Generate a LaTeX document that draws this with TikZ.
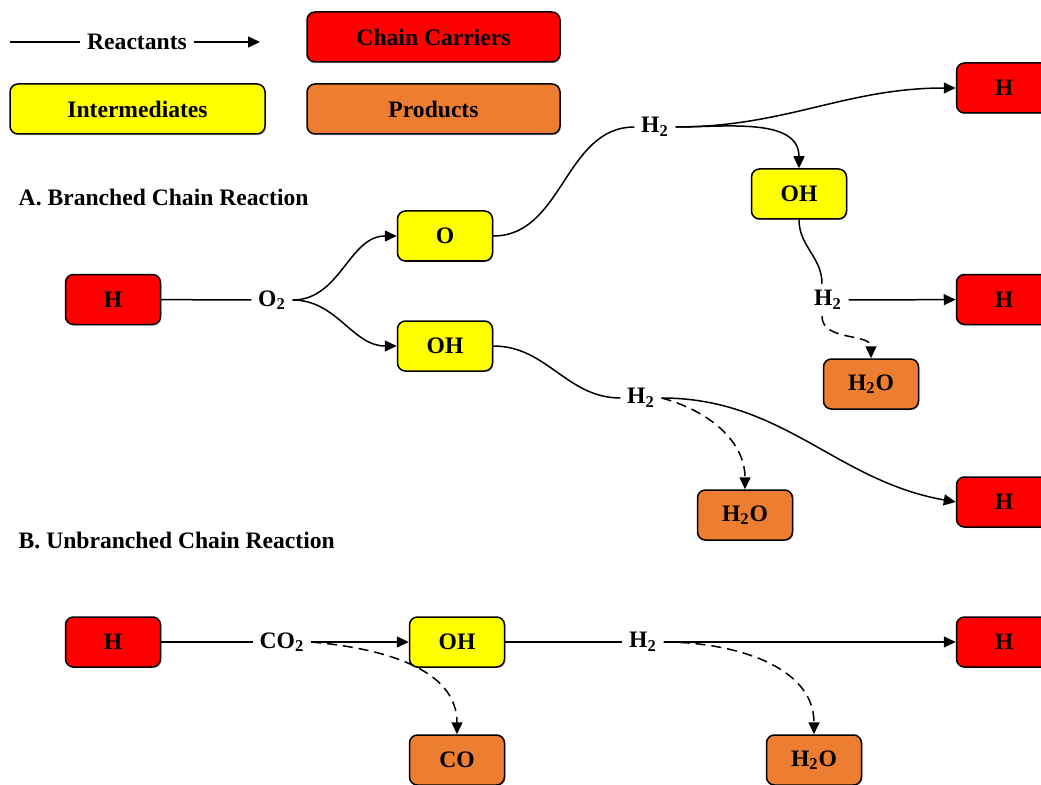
\documentclass[tikz,border=0pt]{standalone}
\usepackage{fontspec}
\setmainfont{Liberation Serif}
\usetikzlibrary{arrows.meta,shadows}

\definecolor{chainred}{HTML}{FF0000}
\definecolor{interyellow}{HTML}{FFFF00}
\definecolor{prodorange}{HTML}{ED7D31}

\begin{document}
\begin{tikzpicture}[x=0.5pt, y=0.5pt, line width=0.75pt,
    font=\fontsize{11.8}{14}\selectfont\bfseries,
    >={Triangle[length=6pt,width=5.5pt]},
    box/.style={draw, rounded corners=4pt, minimum width=47.5pt, minimum height=25pt, inner sep=2pt,
      drop shadow={shadow xshift=0.6pt, shadow yshift=-0.6pt, opacity=0.25, fill=blue!50!gray}},
    carrier/.style={box, fill=chainred},
    inter/.style={box, fill=interyellow},
    product/.style={box, fill=prodorange},
    species/.style={inner sep=3pt},
    heading/.style={anchor=west, inner sep=0pt},
    lossline/.style={dash pattern=on 5pt off 3pt}]
  \clip (0,0) rectangle (1041,784);

  % legend
  \coordinate (legA) at (10,742);
  \coordinate (legB) at (260,742);
  \node[species] at (137,742) (reactants) {Reactants};
  \node[carrier, minimum width=126.5pt] at (433.5,747) (lgcarrier) {Chain Carriers};
  \node[inter, minimum width=127.5pt] at (137.5,675) (lginter) {Intermediates};
  \node[product, minimum width=126.5pt] at (433.5,675) (lgproduct) {Products};

  \draw (legA) -- (reactants);
  \draw[->] (reactants) -- (legB);

  % A. branched
  \node[heading] at (18,587) (titleA) {A. Branched Chain Reaction};
  \node[carrier] at (113,484.5) (hA) {H};
  \node[species] at (272,484) (otwo) {O\textsubscript{2}};
  \node[inter] at (445,548) (oA) {O};
  \node[inter] at (445,438) (ohA) {OH};
  \node[species] at (655,657) (htwoA) {H\textsubscript{2}};
  \node[carrier] at (1004,696) (hR1) {H};
  \node[inter] at (799,590) (ohR) {OH};
  \node[species] at (828,484) (htwoB) {H\textsubscript{2}};
  \node[carrier] at (1004,484.5) (hR2) {H};
  \node[product] at (871,400) (wA) {H\textsubscript{2}O};
  \node[species] at (641,386) (htwoC) {H\textsubscript{2}};
  \node[product] at (745,269) (wB) {H\textsubscript{2}O};
  \node[carrier] at (1004,282) (hR3) {H};

  \draw (hA) -- (otwo);
  \draw[->] (otwo.east) to[out=0,in=180] (oA.west);
  \draw[->] (otwo.east) to[out=0,in=180] (ohA.west);
  \draw (oA.east) to[out=0,in=180] (htwoA.west);
  \draw[->] (htwoA.east) to[out=0,in=180] (hR1.west);
  \draw[->] (htwoA.east) to[out=0,in=90] (ohR.north);
  \draw (ohR.south) to[out=-90,in=90] ([xshift=-3pt]htwoB.north);
  \draw[->] (htwoB) -- (hR2);
  \draw[->, lossline] ([xshift=-3pt]htwoB.south) to[out=-90,in=90] (wA.north);
  \draw (ohA.east) to[out=0,in=180] (htwoC.west);
  \draw[->] (htwoC.east) to[out=0,in=170] (hR3.west);
  \draw[->, lossline] (htwoC.east) to[out=-15,in=90] (wB.north);

  % B. unbranched
  \node[heading] at (18,244) (titleB) {B. Unbranched Chain Reaction};
  \node[carrier] at (113,142) (hB) {H};
  \node[species] at (282,142) (cotwo) {CO\textsubscript{2}};
  \node[inter] at (457,142) (ohB) {OH};
  \node[species] at (643,142) (htwoD) {H\textsubscript{2}};
  \node[carrier] at (1004,142) (hR4) {H};
  \node[product] at (457,24) (co) {CO};
  \node[product] at (814,24) (wC) {H\textsubscript{2}O};

  \draw (hB) -- (cotwo);
  \draw[->] (cotwo) -- (ohB);
  \draw[->, lossline] (cotwo.east) to[out=-5,in=90] (co.north);
  \draw (ohB) -- (htwoD);
  \draw[->] (htwoD) -- (hR4);
  \draw[->, lossline] (htwoD.east) to[out=0,in=90] (wC.north);

\end{tikzpicture}
\end{document}
